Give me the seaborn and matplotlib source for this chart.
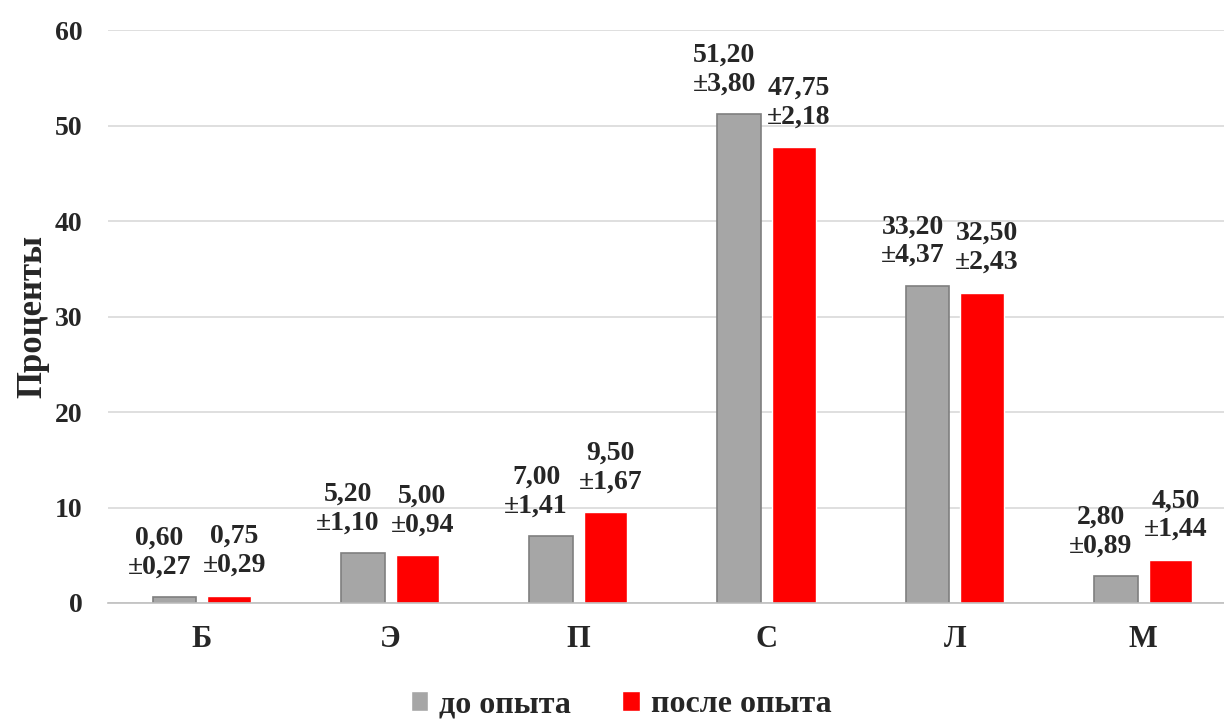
import pandas as pd
import numpy as np
import matplotlib.pyplot as plt
import seaborn as sns

sns.set_style("white")
plt.rcParams['font.family'] = ['Liberation Serif', 'DejaVu Serif']
plt.rcParams['font.weight'] = 'bold'

# Data
categories = ['Б', 'Э', 'П', 'С', 'Л', 'М']
groups = ['до опыта', 'после опыта']
before = [0.60, 5.20, 7.00, 51.20, 33.20, 2.80]
before_sd = [0.27, 1.10, 1.41, 3.80, 4.37, 0.89]
after = [0.75, 5.00, 9.50, 47.75, 32.50, 4.50]
after_sd = [0.29, 0.94, 1.67, 2.18, 2.43, 1.44]

df = pd.DataFrame({
    'cat': categories * 2,
    'group': [groups[0]] * 6 + [groups[1]] * 6,
    'value': before + after,
    'sd': before_sd + after_sd,
})

fig = plt.figure(figsize=(12.24, 7.2), dpi=100)
ax = fig.add_axes([0.088, 0.1625, 0.912, 0.7955])

sns.barplot(data=df, x='cat', y='value', hue='group', order=categories,
            hue_order=groups, palette=['#A6A6A6', '#FF0000'], saturation=1,
            width=0.58, gap=0.2, ax=ax, legend=True)

# edge for grey bars
for bar in ax.containers[0]:
    bar.set_edgecolor('#7F7F7F')
    bar.set_linewidth(1.2)

# value labels
shifts = [-15, 5]
for container, sds, dx in zip(ax.containers, [before_sd, after_sd], shifts):
    for bar, sd in zip(container, sds):
        h = bar.get_height()
        ax.annotate(f'{h:.2f}'.replace('.', ',') + '\n±' + f'{sd:.2f}'.replace('.', ','),
                    (bar.get_x() + bar.get_width() / 2, h),
                    xytext=(dx, 18), textcoords='offset pixels',
                    ha='center', va='bottom', fontsize=20, fontweight='bold',
                    linespacing=1.2)

ax.set_ylim(0, 60)
ax.set_yticks(range(0, 61, 10))
ax.set_xlim(-0.5, 5.43)
ax.yaxis.grid(True, color='#D9D9D9', linewidth=1.2)
ax.set_axisbelow(True)
for s in ['top', 'right', 'left']:
    ax.spines[s].set_visible(False)
ax.spines['bottom'].set_color('#BFBFBF')
ax.spines['bottom'].set_linewidth(1.2)
ax.tick_params(axis='both', length=0)
ax.tick_params(axis='y', pad=18, labelsize=20)
ax.tick_params(axis='x', pad=16, labelsize=22)
for lab in ax.get_xticklabels() + ax.get_yticklabels():
    lab.set_fontweight('bold')
ax.set_xlabel('')
ax.set_ylabel('Проценты', fontsize=25, fontweight='bold', labelpad=4)

ax.legend(loc='lower center', bbox_to_anchor=(0.46, -0.236), ncol=2,
          frameon=False, handlelength=0.55, handleheight=0.6,
          handletextpad=0.35, columnspacing=1.6, borderaxespad=0.2,
          prop={'weight': 'bold', 'size': 23})

fig.savefig('out.png', dpi=100)
